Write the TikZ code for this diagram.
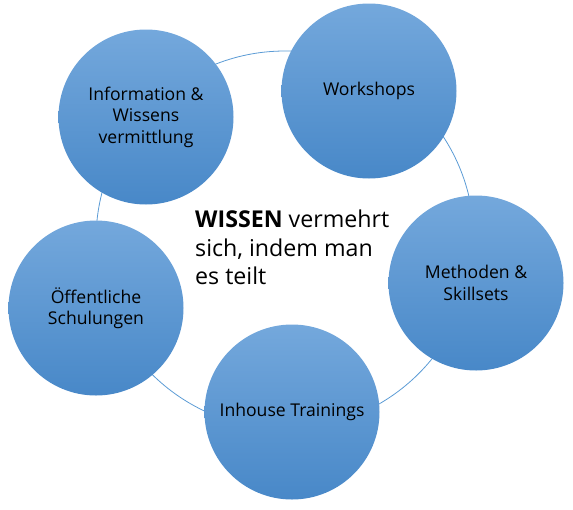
\documentclass[tikz,border=0pt]{standalone}
\usepackage{fontspec}
\setmainfont{Open Sans}
\definecolor{ringblue}{HTML}{5B9BD5}
\definecolor{bubbletop}{HTML}{74A8DC}
\definecolor{bubblebottom}{HTML}{4888C8}
\begin{document}
\begin{tikzpicture}[x=1pt, y=-1pt,
    bubble/.style={circle, minimum size=175pt, inner sep=0pt, top color=bubbletop, bottom color=bubblebottom, font=\fontsize{17.6}{21.5}\selectfont, align=center, text=black},
    ring/.style={circle, draw=ringblue, line width=0.8pt, minimum size=378pt, inner sep=0pt}
]
    \useasboundingbox (0,0) rectangle (573,509);

    % Kreislauf im Hintergrund
    \node[ring] (kreis) at (285,240) {};

    \node[bubble] (info) at (146,117) {Information \&\\Wissens\\vermittlung};
    \node[bubble] (workshops) at (369,91) {Workshops};
    \node[bubble] (methoden) at (476,283) {Methoden \&\\Skillsets};
    \node[bubble] (inhouse) at (292,412) {Inhouse Trainings};
    \node[bubble] (schulungen) at (96,308) {Öffentliche\\Schulungen};

    % Kernaussage in der Mitte
    \node[anchor=north west, inner sep=0pt, align=left, font=\fontsize{23.2}{28.5}\selectfont] (wissen) at (195,210) {\textbf{WISSEN} vermehrt\\sich, indem man\\es teilt};
\end{tikzpicture}
\end{document}
